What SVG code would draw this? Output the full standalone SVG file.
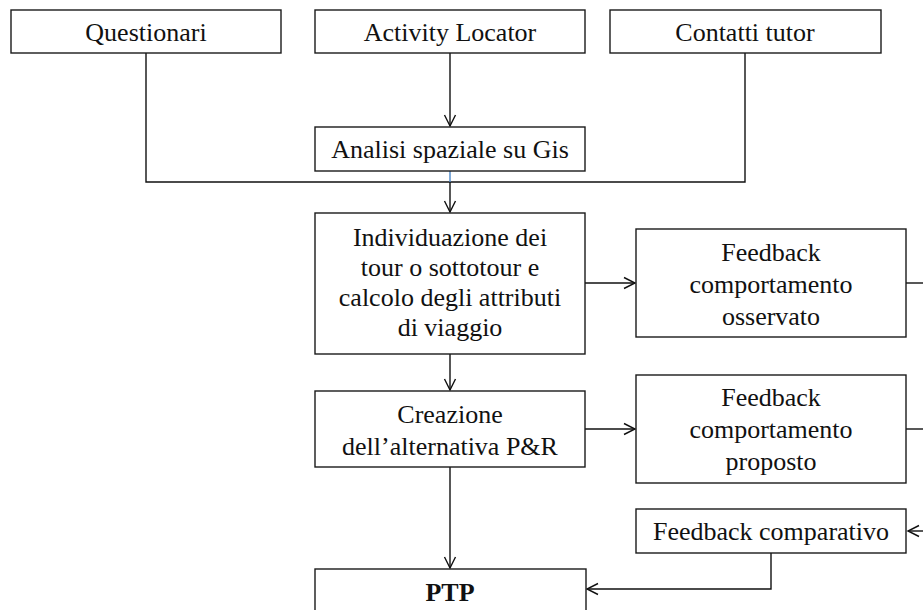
<svg xmlns="http://www.w3.org/2000/svg" width="923" height="610" viewBox="0 0 923 610">
<defs>
<style>
.box{fill:#fff;stroke:#1a1a1a;stroke-width:1.4}
.t{font-family:"Liberation Serif","Times New Roman",serif;font-size:26px;fill:#111;text-anchor:middle}
.b{font-weight:bold}
.c{fill:none;stroke:#111;stroke-width:1.4}
</style>
<marker id="ah" markerUnits="userSpaceOnUse" markerWidth="14" markerHeight="14" refX="12" refY="7" orient="auto">
<path d="M1,1.5 L12,7 L1,12.5" fill="none" stroke="#111" stroke-width="1.4"/>
</marker>
</defs>
<rect width="923" height="610" fill="#fff"/>
<g id="connectors">
<path class="c" d="M146,53 V182 H745 V53"/>
<line class="c" x1="450" y1="53" x2="450" y2="126" marker-end="url(#ah)"/>
<line x1="450" y1="171" x2="450" y2="182" stroke="#4a86c8" stroke-width="1.4"/>
<line class="c" x1="450" y1="182" x2="450" y2="212" marker-end="url(#ah)"/>
<line class="c" x1="585" y1="283" x2="635" y2="283" marker-end="url(#ah)"/>
<line class="c" x1="906" y1="283" x2="923" y2="283"/>
<line class="c" x1="450" y1="354" x2="450" y2="390" marker-end="url(#ah)"/>
<line class="c" x1="585" y1="429" x2="635" y2="429" marker-end="url(#ah)"/>
<line class="c" x1="906" y1="429" x2="923" y2="429" stroke-width="2"/>
<line class="c" x1="923" y1="531" x2="908" y2="531" marker-end="url(#ah)"/>
<line class="c" x1="450" y1="467" x2="450" y2="568" marker-end="url(#ah)"/>
<path class="c" d="M771,553 V589 H587" marker-end="url(#ah)"/>
</g>
<g id="questionari"><rect class="box" x="11" y="10" width="270" height="43"/><text class="t" x="146" y="41">Questionari</text></g>
<g id="activity-locator"><rect class="box" x="315" y="10" width="270" height="43"/><text class="t" x="450" y="41">Activity Locator</text></g>
<g id="contatti-tutor"><rect class="box" x="610" y="10" width="271" height="43"/><text class="t" x="745" y="41">Contatti tutor</text></g>
<g id="analisi"><rect class="box" x="315" y="127" width="270" height="44"/><text class="t" x="450" y="158">Analisi spaziale su Gis</text></g>
<g id="individuazione"><rect class="box" x="315" y="213" width="270" height="141"/>
<text class="t" x="450" y="246">Individuazione dei</text>
<text class="t" x="450" y="276">tour o sottotour e</text>
<text class="t" x="450" y="306">calcolo degli attributi</text>
<text class="t" x="450" y="336">di viaggio</text></g>
<g id="feedback-osservato"><rect class="box" x="636" y="229" width="270" height="108"/>
<text class="t" x="771" y="261">Feedback</text>
<text class="t" x="771" y="293">comportamento</text>
<text class="t" x="771" y="325">osservato</text></g>
<g id="creazione"><rect class="box" x="315" y="391" width="270" height="76"/>
<text class="t" x="450" y="423">Creazione</text>
<text class="t" x="450" y="455">dell’alternativa P&amp;R</text></g>
<g id="feedback-proposto"><rect class="box" x="636" y="375" width="270" height="108"/>
<text class="t" x="771" y="406">Feedback</text>
<text class="t" x="771" y="438">comportamento</text>
<text class="t" x="771" y="470">proposto</text></g>
<g id="feedback-comparativo"><rect class="box" x="636" y="509" width="270" height="44"/>
<text class="t" x="771" y="540">Feedback comparativo</text></g>
<g id="ptp"><rect class="box" x="315" y="569" width="271" height="60"/>
<text class="t b" x="450" y="601">PTP</text></g>
</svg>
